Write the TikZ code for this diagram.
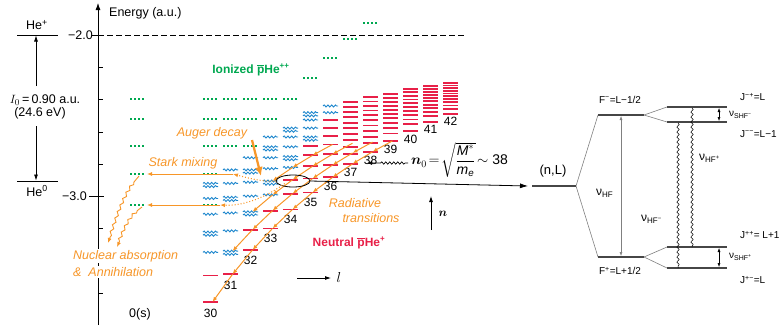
\documentclass[tikz,border=0pt]{standalone}
\usepackage{fontspec}
\setmainfont{Liberation Sans}
\usepackage{amsmath,bm}
\usetikzlibrary{arrows.meta,decorations.pathmorphing,calc,shapes.geometric}
\definecolor{lvred}{RGB}{232,32,72}
\definecolor{lvblue}{RGB}{30,135,205}
\definecolor{lvgreen}{RGB}{0,168,80}
\definecolor{lvorange}{RGB}{247,150,40}
\definecolor{hfgray}{RGB}{70,70,70}
\begin{document}
\begin{tikzpicture}[x=1pt,y=-1pt,
  declare function={Y(\nn,\kk)=6.2+7987/((\nn/10)^3)+1.2*min(\nn-30-\kk,5);},
  redbar/.style={draw=lvred,line width=1.8pt},
  wavy/.style={draw=lvblue,line width=0.9pt,decorate,decoration={snake,segment length=3.75pt,amplitude=1pt}},
  gdots/.style={draw=lvgreen,line width=2pt,dash pattern=on 2pt off 2pt},
  orarrow/.style={draw=lvorange,line width=1pt,-{Latex[length=5pt,width=4pt]}},
  lab/.style={font=\fontsize{12.5}{14}\selectfont, inner sep=0pt},
  numlab/.style={font=\fontsize{12}{13}\selectfont, inner sep=0pt},
  orlab/.style={inner sep=0pt, text=lvorange, font=\fontsize{12.5}{14}\selectfont\itshape},
  hflevel/.style={draw=hfgray,line width=1.5pt},
  hfconn/.style={draw=gray,line width=0.6pt},
  hflab/.style={font=\fontsize{10}{11}\selectfont, inner sep=0pt},
  dblarrow/.style={draw=black,line width=0.5pt,{Latex[length=4pt,width=3pt]}-{Latex[length=4pt,width=3pt]}},
  vwavy/.style={draw=black,line width=0.5pt,decorate,decoration={snake,segment length=5pt,amplitude=1.2pt}},
]
\useasboundingbox (0,0) rectangle (784,325);

% ---------- left: He levels ----------
\coordinate (hepL) at (17,35); \coordinate (hepR) at (58,35);
\coordinate (he0L) at (17,181); \coordinate (he0R) at (58,181);
\draw[line width=0.7pt] (hepL) -- (hepR);
\draw[line width=0.7pt] (he0L) -- (he0R);
\node[lab] (hep) at (37,25) {He\textsuperscript{+}};
\node[lab] (he0) at (37,191) {He\textsuperscript{0}};
\node[lab] (ion) at (45,100) {$I_0$\,=\,0.90 a.u.};
\node[lab] (ev) at (40,113) {(24.6 eV)};
\coordinate (ionT) at (36,35.5); \coordinate (ionB) at (36,180.5);
\draw[line width=0.7pt,-{Latex[length=6pt,width=4pt]}] (36,86) -- (ionT);
\draw[line width=0.7pt,-{Latex[length=6pt,width=4pt]}] (36,126) -- (ionB);

% ---------- axis ----------
\coordinate (axB) at (98,325); \coordinate (axT) at (98,3);
\draw[line width=0.8pt,-{Latex[length=7pt,width=5pt]}] (axB) -- (axT);
\node[lab,anchor=west] (energy) at (109,13) {Energy (a.u.)};
\foreach \y in {67.3,99.6,131.9,164.2,228.8,261.1,293.4} \draw[line width=0.7pt] (98,\y) -- (103,\y);
\draw[line width=0.7pt] (92,35) -- (98,35);
\draw[line width=0.7pt] (89,196.5) -- (104,196.5);
\node[lab,anchor=east] (m2) at (93,35) {−2.0};
\node[lab,anchor=east] (m3) at (87,196.5) {−3.0};
\draw[line width=0.7pt,dash pattern=on 6pt off 3pt] (98,35) -- (465,35);
\node[lab] (zs) at (140,314) {0(s)};

% ---------- levels, columns 0-6 ----------
\foreach \k/\nmax/\nr in {0/36/2,1/37/1,2/38/2,3/40/2,4/41/3,5/43/5,6/44/7}{
  \pgfmathtruncatemacro\nlo{30+\k}
  \pgfmathsetmacro\xl{203+20*\k}
  \pgfmathsetmacro\xr{218+20*\k}
  \foreach \n in {\nlo,...,\nmax}{
    \pgfmathsetmacro\yy{Y(\n,\k)}
    \pgfmathtruncatemacro\vv{\n-\nlo}
    \ifnum\vv<\nr\relax
      \draw[redbar] (\xl,\yy) -- (\xr,\yy);
    \else
      \draw[wavy] (\xl,\yy) -- (\xr,\yy);
      \pgfmathtruncatemacro\md{mod(\n+\k,3)}
      \ifnum\md=0\relax \draw[wavy] (\xl,\yy+3.2) -- (\xr,\yy+3.2); \fi
    \fi
  }
}
% ---------- red blocks, columns 7-12 ----------
\foreach \k/\tp in {7/102,8/97,9/94,10/89,11/86,12/83}{
  \pgfmathsetmacro\xl{203+20*\k}
  \pgfmathsetmacro\xr{218+20*\k}
  \pgfmathsetmacro\bt{Y(30+\k,\k)}
  \draw[redbar] (\xl,\bt) -- (\xr,\bt);
  \foreach \i in {1,...,10}{
    \pgfmathsetmacro\yy{\bt-(\bt-\tp)*((\i/10)^0.8)}
    \draw[redbar] (\xl,\yy) -- (\xr,\yy);
  }
}
% n labels
\foreach \k in {0,...,12}{
  \pgfmathtruncatemacro\nn{30+\k}
  \pgfmathsetmacro\yy{Y(30+\k,\k)+11-0.3*\k}
  \node[numlab] (lab\nn) at (210.5+20*\k,\yy) {\nn};
}

% ---------- green dotted (ionized) ----------
\foreach \y in {99,119,146,174,205} \draw[gdots] (130,\y) -- (145,\y);
\foreach \k in {0,...,4} \draw[gdots] (203+20*\k,99) -- (218+20*\k,99);
\foreach \k in {0,...,3} \draw[gdots] (203+20*\k,119) -- (218+20*\k,119);
\foreach \k in {0,...,2} \draw[gdots] (203+20*\k,146) -- (218+20*\k,146);
\draw[gdots] (203,174) -- (218,174);
\draw[gdots] (203,205) -- (218,205);
\foreach \k/\y in {5/78,6/58,7/39,8/23} \draw[gdots] (203+20*\k,\y) -- (218+20*\k,\y);

% ---------- radiative transitions ----------
\foreach \v/\ks/\kn in {0/9/1,1/8/2,2/7/3,3/6/4}{
  \foreach \k in {\ks,...,\kn}{
    \pgfmathsetmacro\xa{212.5+20*\k}
    \pgfmathsetmacro\ya{Y(30+\k+\v,\k)}
    \pgfmathsetmacro\xb{192.5+20*\k}
    \pgfmathsetmacro\yb{Y(29+\k+\v,\k-1)}
    \draw[orarrow] (\xa,\ya) -- (\xb,\yb);
  }
}
\coordinate (c0a) at (203,275.5); \coordinate (c0b) at (218,275.5);
\draw[draw=white,line width=3.4pt] (c0a) -- (c0b);
\draw[redbar] (c0a) -- (c0b);

% ---------- ellipse and (n,L) arrow ----------
\node[draw,ellipse,line width=0.8pt,minimum width=34pt,minimum height=12pt,inner sep=0pt] (ell) at (293,181) {};
\coordinate (arrEnd) at (528,186);
\draw[line width=0.8pt,-{Latex[length=8pt,width=5pt]}] (ell.east) -- (arrEnd);

% ---------- Stark mixing / Auger ----------
\coordinate (st1a) at (233,174); \coordinate (st1b) at (147,174);
\coordinate (st2a) at (220,205); \coordinate (st2b) at (147,205);
\draw[orarrow] (st1a) -- (st1b);
\draw[orarrow] (st2a) -- (st2b);
\draw[orarrow,dotted,line width=1.1pt] (ell.west) .. controls (262,182) and (248,178) .. (st1a);
\draw[orarrow,dotted,line width=1.1pt] ($(ell.south west)+(4,-2)$) .. controls (262,200) and (240,206) .. (st2a);
\coordinate (augA) at (252,140); \coordinate (augB) at (261,176);
\draw[draw=lvorange,line width=2.2pt,-{Latex[length=9pt,width=8pt]}] (augA) -- (augB);
\node[orlab] (auger) at (212,133) {Auger decay};
\node[orlab] (stark) at (183,163) {Stark mixing};

% nuclear absorption wavy arrows
\coordinate (na1) at (108,243); \coordinate (na2) at (117,247);
\draw[draw=lvorange,line width=0.9pt,decorate,decoration={snake,amplitude=1.3pt,segment length=7pt,pre length=8pt,post length=5pt},-{Latex[length=5pt,width=4pt]}] (139,176) .. controls (124,192) and (118,215) .. (na1);
\draw[draw=lvorange,line width=0.9pt,decorate,decoration={snake,amplitude=1.3pt,segment length=7pt,pre length=6pt,post length=5pt},-{Latex[length=5pt,width=4pt]}] (142,207) .. controls (128,216) and (124,232) .. (na2);
\node[orlab,anchor=west,fill=white,inner sep=1pt] (nuc1) at (72,256) {Nuclear absorption};
\node[orlab,anchor=west,fill=white,inner sep=1pt] (nuc2) at (72,272) {\&\ \ Annihilation};

% ---------- texts ----------
\node[inner sep=0pt,text=lvgreen,font=\fontsize{12}{14}\selectfont\bfseries] (ionized) at (251,70) {Ionized $\overline{\mbox{p}}$He\textsuperscript{++}};
\node[inner sep=0pt,text=lvred,font=\fontsize{12}{14}\selectfont\bfseries] (neutral) at (349,243) {Neutral $\overline{\mbox{p}}$He\textsuperscript{+}};
\node[orlab] (rad1) at (355,203) {Radiative};
\node[orlab] (rad2) at (371,218) {transitions};

\coordinate (nA) at (431,230); \coordinate (nB) at (431,196);
\draw[line width=0.8pt,-{Latex[length=6pt,width=4pt]}] (nA) -- (nB);
\node[inner sep=0pt,font=\fontsize{13}{14}\selectfont] (nlab) at (443,214) {$\bm{n}$};
\coordinate (lA) at (297,278); \coordinate (lB) at (331,278);
\draw[line width=0.8pt,-{Latex[length=6pt,width=4pt]}] (lA) -- (lB);
\node[inner sep=0pt,font=\fontsize{14}{15}\selectfont] (llab) at (339,277) {$l$};

\node[inner sep=0pt,anchor=west,font=\fontsize{14}{16}\selectfont] (n0) at (411,160) {$\bm{n}_0\!=\!\sqrt{\dfrac{\text{\itshape M}^*}{\text{\itshape m}_{\text{\itshape e}}}}\!\sim\text{38}$};
\coordinate (n0tip) at (367,163);
\draw[line width=0.7pt,decorate,decoration={snake,amplitude=1.2pt,segment length=4pt,pre length=3pt,post length=12pt},-{Latex[length=5pt,width=4pt]}] (408,163) -- (n0tip);

% ---------- right: hyperfine structure ----------
\coordinate (nlL) at (532,186); \coordinate (nlR) at (576,186);
\coordinate (FmL) at (598,115); \coordinate (FmR) at (644,115);
\coordinate (FpL) at (598,257); \coordinate (FpR) at (644,257);
\coordinate (JmpL) at (667,107); \coordinate (JmpR) at (727,107);
\coordinate (JmmL) at (667,122); \coordinate (JmmR) at (727,122);
\coordinate (JppL) at (667,247); \coordinate (JppR) at (727,247);
\coordinate (JpmL) at (667,268); \coordinate (JpmR) at (727,268);
\draw[hfconn] (nlR) -- (FmL);
\draw[hfconn] (nlR) -- (FpL);
\draw[hfconn] (FmR) -- (JmpL);
\draw[hfconn] (FmR) -- (JmmL);
\draw[hfconn] (FpR) -- (JppL);
\draw[hfconn] (FpR) -- (JpmL);
\draw[hflevel] (nlL) -- (nlR);
\draw[hflevel] (FmL) -- (FmR);
\draw[hflevel] (FpL) -- (FpR);
\draw[hflevel] (JmpL) -- (JmpR);
\draw[hflevel] (JmmL) -- (JmmR);
\draw[hflevel] (JppL) -- (JppR);
\draw[hflevel] (JpmL) -- (JpmR);
\coordinate (hfT) at (621,116); \coordinate (hfB) at (621,256);
\draw[dblarrow,draw=gray] (hfT) -- (hfB);
\coordinate (s1T) at (719,108); \coordinate (s1B) at (719,121);
\draw[dblarrow] (s1T) -- (s1B);
\coordinate (s2T) at (719,248); \coordinate (s2B) at (719,267);
\draw[dblarrow] (s2T) -- (s2B);
\coordinate (w1T) at (692,108); \coordinate (w1B) at (692,247);
\draw[vwavy] (w1T) -- (w1B);
\coordinate (w2T) at (678,123); \coordinate (w2B) at (678,268);
\draw[vwavy] (w2T) -- (w2B);

\node[inner sep=0pt,font=\fontsize{13}{14}\selectfont] (nL) at (553,171) {(n,L)};
\node[hflab] (Fm) at (620,100) {F\textsuperscript{−}=L−1/2};
\node[hflab] (Fp) at (620,271) {F\textsuperscript{+}=L+1/2};
\node[hflab,anchor=west] (Jmp) at (740,97) {J\textsuperscript{−+}=L};
\node[hflab,anchor=west] (Jmm) at (740,134) {J\textsuperscript{−−}=L−1};
\node[hflab,anchor=west] (Jpp) at (740,235) {J\textsuperscript{++}= L+1};
\node[hflab,anchor=west] (Jpm) at (740,280) {J\textsuperscript{+−}=L};
\node[inner sep=0pt,anchor=west,font=\fontsize{12}{14}\selectfont] (nuHF) at (596,193) {ν\textsubscript{HF}};
\node[inner sep=0pt,anchor=west,font=\fontsize{12}{14}\selectfont] (nuHFp) at (699,158) {ν\textsubscript{HF\textsuperscript{+}}};
\node[inner sep=0pt,anchor=west,font=\fontsize{12}{14}\selectfont] (nuHFm) at (641,219) {ν\textsubscript{HF\textsuperscript{−}}};
\node[inner sep=0pt,anchor=west,font=\fontsize{10}{11}\selectfont] (nuS1) at (729,115) {ν\textsubscript{SHF\textsuperscript{−}}};
\node[inner sep=0pt,anchor=west,font=\fontsize{10}{11}\selectfont] (nuS2) at (729,257) {ν\textsubscript{SHF\textsuperscript{+}}};
\end{tikzpicture}
\end{document}
